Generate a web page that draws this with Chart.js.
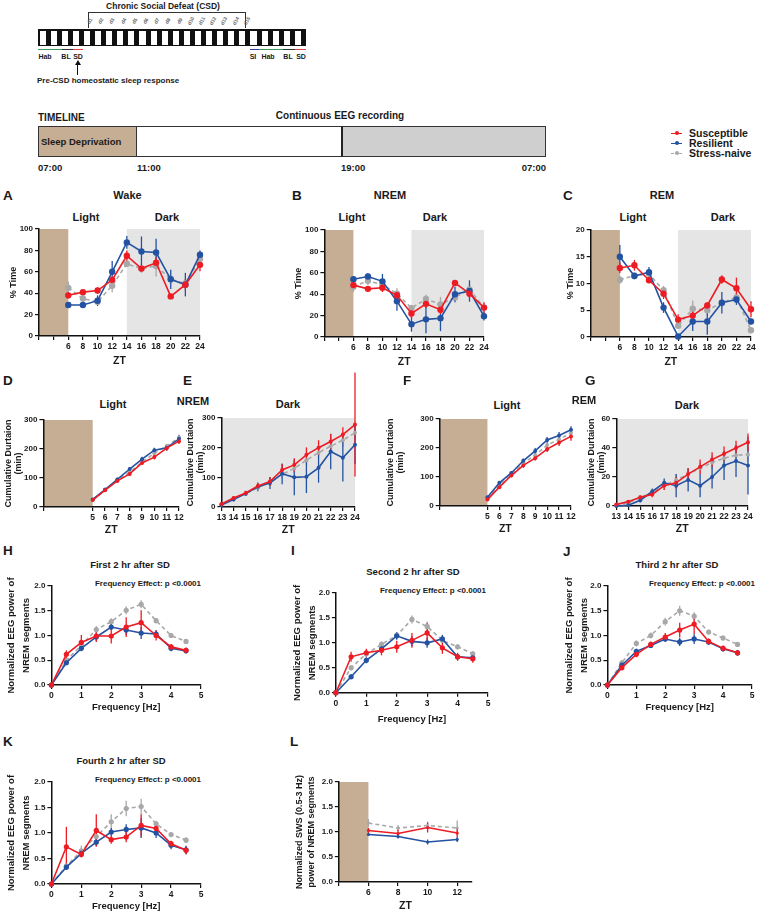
<!DOCTYPE html>
<html>
<head>
<meta charset="utf-8">
<script src="https://cdn.jsdelivr.net/npm/chart.js@4.4.1/dist/chart.umd.min.js"></script>
<style>
  body { margin:0; width:758px; height:911px; position:relative; overflow:hidden; background:#fff;
         font-family:'Liberation Sans', Arial, sans-serif; font-weight:bold; color:#1a1a1a; }
  canvas { position:absolute; }
</style>
</head>
<body>
<script>
// ---- x positions ----
const ztDay = [6, 8, 10, 12, 14, 16, 18, 20, 22, 24];
const ztCumLight = [5, 6, 7, 8, 9, 10, 11, 12];
const ztCumDark = [13, 14, 15, 16, 17, 18, 19, 20, 21, 22, 23, 24];
const freqHz = [0, 0.5, 1, 1.5, 2, 2.5, 3, 3.5, 4, 4.5];
const ztSws = [6, 8, 10, 12];

// ---- tick labels ----
const ztDayTicks = [2, 4, 6, 8, 10, 12, 14, 16, 18, 20, 22, 24];
const ztDayLabels = [6, 8, 10, 12, 14, 16, 18, 20, 22, 24];
const ztCumLightTicks = [1, 5, 6, 7, 8, 9, 10, 11, 12];
const ztCumLightLabels = [5, 6, 7, 8, 9, 10, 11, 12];
const ztCumDarkTicks = [13, 14, 15, 16, 17, 18, 19, 20, 21, 22, 23, 24];
const freqTicks = [0, 1, 2, 3, 4, 5];
const ztSwsTicks = [4, 6, 8, 10, 12];
const ztSwsLabels = [6, 8, 10, 12];
const pctTicks = [0, 20, 40, 60, 80, 100];
const remPctTicks = [0, 5, 10, 15, 20];
const cumTicks = [0, 100, 200, 300];
const cumRemDarkTicks = [0, 20, 40, 60];
const powerTicks = [0, 0.5, 1, 1.5, 2];

// ---- A: Wake % time ----
const wakeSus = [38, 41, 42.5, 52.5, 75, 63, 68.5, 37, 48, 66.5];
const wakeSusErr = [3, 2, 3, 3, 5, 3, 5, 2, 5, 6];
const wakeRes = [29, 29, 33, 60, 87.5, 79, 78, 53, 48, 76];
const wakeResErr = [2, 2, 5, 10, 6, 14, 13, 9, 11, 4];
const wakeNaive = [45, 35, 32, 47, 67.5, 63, 65.5, 53, 49, 72];
const wakeNaiveErr = [6, 3, 3, 6, 3, 4, 10, 4, 4, 3];

// ---- B: NREM % time ----
const nremSus = [48.5, 45, 46, 39, 22, 31, 25.5, 50.5, 40.5, 27.5];
const nremSusErr = [3, 2, 4, 3, 5, 4, 4, 2, 4, 5];
const nremRes = [54, 56.5, 52, 33.5, 12, 16.5, 17.5, 40, 43, 19.5];
const nremResErr = [3, 3, 7, 9, 7, 13, 12, 7, 10, 4];
const nremNaive = [47, 52.5, 49, 40.5, 27, 35.5, 30.5, 37, 44.5, 27.5];
const nremNaiveErr = [5, 4, 3, 5, 3, 4, 7, 5, 5, 4];

// ---- C: REM % time ----
const remSus = [12.9, 13.4, 10.6, 8.1, 3.25, 4, 5.9, 10.75, 9.1, 5.2];
const remSusErr = [1, 1, 0.5, 1, 1, 1, 0.6, 0.8, 2, 1.5];
const remRes = [15, 11.4, 12.1, 5.5, 0.1, 2.9, 2.9, 6.4, 7, 2.9];
const remResErr = [2.2, 0.6, 1, 1, 0.3, 1.8, 2.5, 2, 1, 0.5];
const remNaive = [10.7, 11.5, 11.8, 8.75, 2.1, 5.3, 5, 6.4, 7.4, 1.25];
const remNaiveErr = [0.8, 0.6, 0.8, 0.8, 0.5, 1.5, 1, 0.8, 0.8, 0.5];

// ---- D: cumulative NREM, light ----
const cumNremLightSus = [24, 58, 90, 114, 152, 172, 203, 227];
const cumNremLightSusErr = [4, 5, 5, 6, 6, 8, 8, 10];
const cumNremLightRes = [26, 60, 95, 131, 165, 196, 204, 235];
const cumNremLightResErr = [4, 5, 6, 6, 8, 8, 10, 12];
const cumNremLightNaive = [25, 58, 92, 120, 155, 185, 210, 240];
const cumNremLightNaiveErr = [4, 5, 5, 6, 6, 8, 8, 10];

// ---- E: cumulative NREM, dark ----
const cumNremDarkSus = [10, 30, 47, 71, 86, 125, 142, 176, 200, 221, 244, 278];
const cumNremDarkSusErr = [5, 6, 8, 10, 15, 20, 22, 25, 25, 25, 25, 175];
const cumNremDarkRes = [7, 25, 45, 68, 81, 112, 100, 102, 132, 187, 166, 210];
const cumNremDarkResErr = [4, 6, 8, 15, 20, 35, 60, 55, 50, 60, 80, 65];
const cumNremDarkNaive = [8, 28, 45, 65, 85, 110, 130, 158, 183, 205, 225, 250];
const cumNremDarkNaiveErr = [4, 5, 7, 8, 10, 12, 15, 15, 18, 20, 22, 25];

// ---- F: cumulative REM, light ----
const cumRemLightSus = [22, 65, 105, 140, 165, 196, 219, 240];
const cumRemLightSusErr = [3, 5, 6, 8, 8, 10, 12, 15];
const cumRemLightRes = [30, 80, 114, 156, 190, 228, 243, 263];
const cumRemLightResErr = [3, 5, 6, 8, 10, 10, 12, 12];
const cumRemLightNaive = [25, 72, 108, 148, 175, 210, 230, 252];
const cumRemLightNaiveErr = [3, 5, 6, 8, 8, 10, 10, 12];

// ---- G: cumulative REM, dark ----
const cumRemDarkSus = [1, 3, 6, 8, 14, 16, 22, 27, 32, 36, 40, 44];
const cumRemDarkSusErr = [0.5, 1, 1.5, 2, 3, 4, 4, 5, 5, 5, 5, 6];
const cumRemDarkRes = [0, 0.5, 4, 10, 16, 14, 18, 14, 20, 28, 31, 28];
const cumRemDarkResErr = [0.3, 0.5, 1.5, 2, 3, 8, 8, 8, 8, 10, 11, 20];
const cumRemDarkNaive = [0.5, 2, 6, 9, 14, 18, 22, 26, 30, 33, 35, 35.5];
const cumRemDarkNaiveErr = [0.3, 0.8, 1, 1.5, 3, 4, 4, 4, 5, 5, 5, 5];

// ---- H-K: normalized EEG power ----
const pow1Sus = [0, 0.62, 0.86, 0.99, 0.99, 1.17, 1.26, 1.0, 0.77, 0.7];
const pow1SusErr = [0, 0.08, 0.15, 0.12, 0.15, 0.2, 0.25, 0.1, 0.06, 0.06];
const pow1Res = [0, 0.45, 0.74, 0.97, 1.17, 1.11, 1.05, 1.03, 0.74, 0.69];
const pow1ResErr = [0, 0.05, 0.06, 0.08, 0.06, 0.1, 0.12, 0.08, 0.06, 0.05];
const pow1Naive = [0, 0.5, 0.8, 1.12, 1.28, 1.51, 1.63, 1.3, 1.0, 0.88];
const pow1NaiveErr = [0, 0.05, 0.06, 0.07, 0.07, 0.08, 0.08, 0.05, 0.05, 0.05];

const pow2Sus = [0, 0.72, 0.8, 0.85, 0.92, 1.05, 1.2, 0.9, 0.72, 0.68];
const pow2SusErr = [0, 0.1, 0.08, 0.1, 0.12, 0.15, 0.2, 0.12, 0.08, 0.08];
const pow2Res = [0, 0.32, 0.65, 0.88, 1.14, 1.03, 1.0, 1.08, 0.72, 0.7];
const pow2ResErr = [0, 0.05, 0.06, 0.07, 0.08, 0.1, 0.1, 0.08, 0.06, 0.06];
const pow2Naive = [0, 0.5, 0.78, 0.97, 1.15, 1.47, 1.33, 1.05, 0.92, 0.78];
const pow2NaiveErr = [0, 0.05, 0.05, 0.06, 0.06, 0.08, 0.1, 0.06, 0.05, 0.05];

const pow3Sus = [0, 0.35, 0.62, 0.82, 0.97, 1.11, 1.23, 0.88, 0.74, 0.65];
const pow3SusErr = [0, 0.05, 0.06, 0.06, 0.08, 0.15, 0.2, 0.06, 0.06, 0.06];
const pow3Res = [0, 0.4, 0.68, 0.8, 0.93, 0.87, 0.93, 0.87, 0.73, 0.65];
const pow3ResErr = [0, 0.05, 0.05, 0.05, 0.06, 0.08, 0.1, 0.06, 0.05, 0.05];
const pow3Naive = [0, 0.45, 0.84, 1.0, 1.28, 1.5, 1.39, 1.07, 0.95, 0.82];
const pow3NaiveErr = [0, 0.05, 0.06, 0.06, 0.08, 0.1, 0.08, 0.05, 0.05, 0.05];

const pow4Sus = [0, 0.73, 0.58, 1.05, 0.87, 0.92, 1.15, 1.09, 0.79, 0.66];
const pow4SusErr = [0, 0.39, 0.06, 0.32, 0.08, 0.1, 0.22, 0.1, 0.06, 0.08];
const pow4Res = [0, 0.33, 0.6, 0.82, 1.02, 1.07, 1.1, 1.0, 0.76, 0.67];
const pow4ResErr = [0, 0.05, 0.05, 0.08, 0.08, 0.1, 0.2, 0.1, 0.08, 0.08];
const pow4Naive = [0, 0.35, 0.65, 0.93, 1.22, 1.48, 1.52, 1.18, 0.97, 0.86];
const pow4NaiveErr = [0, 0.05, 0.1, 0.1, 0.15, 0.15, 0.15, 0.06, 0.05, 0.05];

// ---- L: normalized SWS power ----
const swsSus = [1.03, 0.97, 1.09, 0.98];
const swsSusErr = [0.05, 0.08, 0.1, 0.08];
const swsRes = [0.95, 0.91, 0.8, 0.85];
const swsResErr = [0.03, 0.04, 0.05, 0.05];
const swsNaive = [1.18, 1.08, 1.13, 1.08];
const swsNaiveErr = [0.08, 0.06, 0.08, 0.15];

const FONT = "'Liberation Sans', Arial, Helvetica, sans-serif";
const INK = '#1a1a1a';
const RED = '#ed1c24', BLUE = '#2452a2', GREY = '#a8a8a8';
const TAN = '#c5ae94', DARKSHADE = '#e5e5e5';

// ---------- helpers for the html parts ----------
function text(str, x, y, size, anchor) {
  const d = document.createElement('div');
  d.textContent = str;
  const tx = anchor === 'left' ? '0' : anchor === 'right' ? '-100%' : '-50%';
  d.style.cssText = `position:absolute;white-space:nowrap;left:${x}px;top:${y}px;` +
    `font:bold ${size}px ${FONT};color:${INK};transform:translate(${tx},-50%);line-height:1`;
  document.body.appendChild(d);
  return d;
}
function rect(x, y, w, h, css) {
  const d = document.createElement('div');
  d.style.cssText = `position:absolute;left:${x}px;top:${y}px;width:${w}px;height:${h}px;${css || ''}`;
  document.body.appendChild(d);
  return d;
}

// ---------- top schematic ----------
text('Chronic Social Defeat (CSD)', 163, 6, 8.5);
rect(88, 12, 157, 0, 'border-top:1px solid #333');
rect(88, 12, 0, 16, 'border-left:1px solid #333');
rect(245, 12, 0, 16, 'border-left:1px solid #333');
rect(38, 29, 268, 17, 'background:#111');
for (let k = 0; k < 24; k++) rect(39.5 + k * 11.1, 30.5, 6.2, 14, 'background:#fff');
for (let i = 1; i <= 15; i++) {
  const d = text('d' + i, 90 + (i - 1) * 11.2, 21, 5);
  d.style.color = '#666';
  d.style.transform = 'translate(-50%,-50%) rotate(-60deg)';
}
rect(38, 49, 24, 0, 'border-top:1.5px solid #3a9a5a');
rect(62, 49, 11, 0, 'border-top:1.5px solid #333');
rect(73, 49, 10, 0, 'border-top:1.5px solid #e04040');
text('Hab', 45, 55.5, 7); text('BL', 66, 55.5, 7); text('SD', 78, 55.5, 7);
rect(250, 49, 9, 0, 'border-top:1.5px solid #3a3aa0');
rect(259, 49, 24, 0, 'border-top:1.5px solid #3a9a5a');
rect(283, 49, 12, 0, 'border-top:1.5px solid #333');
rect(295, 49, 11, 0, 'border-top:1.5px solid #e04040');
text('SI', 253, 55.5, 7); text('Hab', 268, 55.5, 7); text('BL', 288, 55.5, 7); text('SD', 301, 55.5, 7);
rect(77.2, 64, 0, 11, 'border-left:1.5px solid #111');
rect(75, 60, 0, 0, 'border-left:3px solid transparent;border-right:3px solid transparent;border-bottom:5px solid #111');
text('Pre-CSD homeostatic sleep response', 37, 81, 8, 'left');

// ---------- timeline ----------
text('TIMELINE', 38, 118, 10, 'left');
text('Continuous EEG recording', 340, 116, 10);
rect(38, 126, 508, 31, 'box-sizing:border-box;border:1px solid #333;background:#fff');
rect(38, 126, 99, 31, 'box-sizing:border-box;border:1px solid #333;background:' + TAN);
rect(341, 126, 205, 31, 'box-sizing:border-box;border:1px solid #333;border-left:2px solid #222;background:#cfcfcf');
text('Sleep Deprivation', 41, 141.5, 9.5, 'left');
text('07:00', 38, 168, 9.5, 'left');
text('11:00', 137, 168, 9.5, 'left');
text('19:00', 341, 168, 9.5, 'left');
text('07:00', 546, 168, 9.5, 'right');

// ---------- legend ----------
const legendItems = [['Susceptible', RED, false], ['Resilient', BLUE, false], ['Stress-naive', GREY, true]];
legendItems.forEach(([name, col, dashed], i) => {
  const y = 133 + i * 10;
  rect(671, y, 11, 0, `border-top:1.5px ${dashed ? 'dashed' : 'solid'} ${col}`);
  rect(674.5, y - 2, 4, 4, `border-radius:50%;background:${col}`);
  text(name, 689, y, 10.5, 'left');
});

// ---------- chart plugins ----------
const shadePlugin = {
  id: 'shade',
  beforeDraw(chart, args, opts) {
    const {ctx, chartArea: a, scales: {x}} = chart;
    (opts.bands || []).forEach(b => {
      const x0 = x.getPixelForValue(b[0]), x1 = x.getPixelForValue(b[1]);
      ctx.save();
      ctx.fillStyle = b[2];
      ctx.fillRect(x0, a.top, x1 - x0, a.bottom - a.top);
      ctx.restore();
    });
  }
};
const errorBarPlugin = {
  id: 'errbars',
  beforeDatasetsDraw(chart) {
    const {ctx, scales: {x, y}} = chart;
    const sets = chart.data.datasets;
    for (let i = sets.length - 1; i >= 0; i--) {
      const ds = sets[i];
      if (!ds.errors) continue;
      ctx.save();
      ctx.strokeStyle = ds.borderColor;
      ctx.lineWidth = 1.3;
      ds.data.forEach((p, j) => {
        const e = ds.errors[j];
        if (!e) return;
        const px = x.getPixelForValue(p.x);
        ctx.beginPath();
        ctx.moveTo(px, y.getPixelForValue(p.y - e));
        ctx.lineTo(px, y.getPixelForValue(p.y + e));
        ctx.stroke();
      });
      ctx.restore();
    }
  }
};

function makeChart(p) {
  const [x0, y0, x1, y1] = p.area;
  const padT = p.padT || 12, padR = p.padR || 12;
  const w = Math.round(x1 - x0 + p.yW + padR), h = Math.round(y1 - y0 + padT + p.xH);
  const cv = document.createElement('canvas');
  cv.width = w; cv.height = h;
  cv.style.left = (x0 - p.yW) + 'px';
  cv.style.top = (y0 - padT) + 'px';
  cv.style.width = w + 'px';
  cv.style.height = h + 'px';
  document.body.appendChild(cv);

  const datasets = p.series.map(s => ({
    data: p.xs.map((xv, i) => ({x: xv, y: s.y[i]})),
    errors: s.err,
    borderColor: s.color,
    backgroundColor: s.color,
    borderWidth: 1.6,
    borderDash: s.dash || [],
    pointRadius: p.pr,
    pointBorderWidth: 0,
    pointHoverRadius: p.pr,
    tension: 0,
    clip: false
  }));
  const tickFont = {family: FONT, size: 8.5, weight: 'bold'};
  const grid = {drawOnChartArea: false, drawTicks: true, tickLength: 4, color: '#111', lineWidth: 1.2};
  const border = {display: true, color: '#111', width: 1.5};
  const xLab = p.xLabels || p.xTicks;
  const yt = p.yTitleFont || {size: 9, lh: 1.2};

  new Chart(cv, {
    type: 'line',
    data: {datasets},
    options: {
      responsive: false,
      animation: false,
      events: [],
      layout: {padding: {top: padT, right: padR, left: 0, bottom: 0}},
      plugins: {legend: {display: false}, tooltip: {enabled: false}, shade: {bands: p.shade || []}},
      scales: {
        x: {
          type: 'linear', min: p.xMin, max: p.xMax,
          afterBuildTicks: s => { s.ticks = p.xTicks.map(v => ({value: v})); },
          afterFit: s => { s.height = p.xH; },
          ticks: {autoSkip: false, maxRotation: 0, padding: 2, font: tickFont, color: INK,
                  callback: v => xLab.includes(v) ? String(v) : ''},
          grid, border,
          title: {display: true, text: p.xTitle, color: INK, padding: 0,
                  font: {family: FONT, size: p.xTitleSize || 10.5, weight: 'bold'}}
        },
        y: {
          min: p.yMin, max: p.yMax,
          afterBuildTicks: s => { s.ticks = p.yTicks.map(v => ({value: v})); },
          afterFit: s => { s.width = p.yW; },
          ticks: {autoSkip: false, padding: 2, font: {family: FONT, size: 8, weight: 'bold'}, color: INK,
                  callback: p.yFmt || (v => String(v))},
          grid, border,
          title: {display: true, text: p.yTitle, color: INK, padding: 0,
                  font: {family: FONT, size: yt.size, weight: 'bold', lineHeight: yt.lh}}
        }
      }
    },
    plugins: [shadePlugin, errorBarPlugin]
  });
}

function trio(sus, susErr, res, resErr, naive, naiveErr) {
  return [
    {y: sus, err: susErr, color: RED},
    {y: res, err: resErr, color: BLUE},
    {y: naive, err: naiveErr, color: GREY, dash: [4, 3]}
  ];
}
const fmt1 = v => v.toFixed(1);

// ---------- row 1: A, B, C ----------
text('A', 3, 196, 13.5, 'left'); text('Wake', 127.5, 195, 11);
text('Light', 86, 217, 11); text('Dark', 167, 217, 11);
makeChart({area: [39, 229, 199.5, 336], yW: 31, xH: 31, padR: 10,
  xMin: 2, xMax: 24, xTicks: ztDayTicks, xLabels: ztDayLabels, xTitle: 'ZT',
  yMin: 0, yMax: 100, yTicks: pctTicks, yTitle: '% Time',
  shade: [[2, 6, TAN], [14, 24, DARKSHADE]], xs: ztDay, pr: 3.2,
  series: trio(wakeSus, wakeSusErr, wakeRes, wakeResErr, wakeNaive, wakeNaiveErr)});

text('B', 292, 196, 13.5, 'left'); text('NREM', 390, 195, 11);
text('Light', 352, 217, 11); text('Dark', 435, 217, 11);
makeChart({area: [324, 230, 484, 337], yW: 31.4, xH: 31, padR: 10,
  xMin: 2, xMax: 24, xTicks: ztDayTicks, xLabels: ztDayLabels, xTitle: 'ZT',
  yMin: 0, yMax: 100, yTicks: pctTicks, yTitle: '% Time',
  shade: [[2, 6, TAN], [14, 24, DARKSHADE]], xs: ztDay, pr: 3.2,
  series: trio(nremSus, nremSusErr, nremRes, nremResErr, nremNaive, nremNaiveErr)});

text('C', 563, 196, 13.5, 'left'); text('REM', 662, 195, 11);
text('Light', 633, 217, 11); text('Dark', 723, 217, 11);
makeChart({area: [591, 230, 751, 337], yW: 25.7, xH: 31, padR: 7,
  xMin: 2, xMax: 24, xTicks: ztDayTicks, xLabels: ztDayLabels, xTitle: 'ZT',
  yMin: 0, yMax: 20, yTicks: remPctTicks, yTitle: '% Time',
  shade: [[2, 6, TAN], [14, 24, DARKSHADE]], xs: ztDay, pr: 3.2,
  series: trio(remSus, remSusErr, remRes, remResErr, remNaive, remNaiveErr)});

// ---------- row 2: D, E, F, G ----------
const cumTitle = ['Cumulative Durtaion', '(min)'];
const cumFont = {size: 9, lh: 1.1};
text('D', 3, 381, 13.5, 'left'); text('Light', 113, 404, 11);
makeChart({area: [43, 420, 179, 507], yW: 39.4, xH: 29, padR: 10,
  xMin: 1, xMax: 12, xTicks: ztCumLightTicks, xLabels: ztCumLightLabels, xTitle: 'ZT',
  yMin: 0, yMax: 300, yTicks: cumTicks, yTitle: cumTitle, yTitleFont: cumFont,
  shade: [[1, 5, TAN]], xs: ztCumLight, pr: 2,
  series: trio(cumNremLightSus, cumNremLightSusErr, cumNremLightRes, cumNremLightResErr, cumNremLightNaive, cumNremLightNaiveErr)});

text('E', 183, 381, 13.5, 'left'); text('NREM', 193, 401, 11); text('Dark', 288, 404, 11);
makeChart({area: [221, 418, 355, 507], yW: 35.4, xH: 29, padR: 10, padT: 55,
  xMin: 13, xMax: 24, xTicks: ztCumDarkTicks, xTitle: 'ZT',
  yMin: 0, yMax: 300, yTicks: cumTicks, yTitle: cumTitle, yTitleFont: cumFont,
  shade: [[13, 24, DARKSHADE]], xs: ztCumDark, pr: 2,
  series: trio(cumNremDarkSus, cumNremDarkSusErr, cumNremDarkRes, cumNremDarkResErr, cumNremDarkNaive, cumNremDarkNaiveErr)});

text('F', 403, 381, 13.5, 'left'); text('Light', 507, 405, 11);
makeChart({area: [440, 419.3, 571, 506], yW: 53.7, xH: 29, padR: 10,
  xMin: 1, xMax: 12, xTicks: ztCumLightTicks, xLabels: ztCumLightLabels, xTitle: 'ZT',
  yMin: 0, yMax: 300, yTicks: cumTicks, yTitle: cumTitle, yTitleFont: cumFont,
  shade: [[1, 5, TAN]], xs: ztCumLight, pr: 2,
  series: trio(cumRemLightSus, cumRemLightSusErr, cumRemLightRes, cumRemLightResErr, cumRemLightNaive, cumRemLightNaiveErr)});

text('G', 585, 381, 13.5, 'left'); text('REM', 584, 400, 11); text('Dark', 687, 405, 11);
makeChart({area: [616, 419.3, 748, 506], yW: 29.3, xH: 29, padR: 10,
  xMin: 13, xMax: 24, xTicks: ztCumDarkTicks, xTitle: 'ZT',
  yMin: 0, yMax: 60, yTicks: cumRemDarkTicks, yTitle: cumTitle, yTitleFont: cumFont,
  shade: [[13, 24, DARKSHADE]], xs: ztCumDark, pr: 2,
  series: trio(cumRemDarkSus, cumRemDarkSusErr, cumRemDarkRes, cumRemDarkResErr, cumRemDarkNaive, cumRemDarkNaiveErr)});

// ---------- rows 3-4: H, I, J, K, L ----------
const powTitle = ['Normalized EEG power of', 'NREM segments'];
const powFont = {size: 9.5, lh: 1.55};
const fe = 'Frequency Effect: p <0.0001';

text('H', 3, 551, 13.5, 'left'); text('First 2 hr after SD', 130, 565, 9.5); text(fe, 148, 583.5, 8);
makeChart({area: [51, 586, 201, 684.7], yW: 47.4, xH: 28, padT: 30,
  xMin: 0, xMax: 5, xTicks: freqTicks, xTitle: 'Frequency [Hz]', xTitleSize: 9.5,
  yMin: 0, yMax: 2, yTicks: powerTicks, yFmt: fmt1, yTitle: powTitle, yTitleFont: powFont,
  xs: freqHz, pr: 2.6,
  series: trio(pow1Sus, pow1SusErr, pow1Res, pow1ResErr, pow1Naive, pow1NaiveErr)});

text('I', 291, 551, 13.5, 'left'); text('Second 2 hr after SD', 413, 572, 9.5); text(fe, 433, 591, 8);
makeChart({area: [336, 593.3, 487.7, 693.3], yW: 45.9, xH: 32.3, padT: 30,
  xMin: 0, xMax: 5, xTicks: freqTicks, xTitle: 'Frequency [Hz]', xTitleSize: 9.5,
  yMin: 0, yMax: 2, yTicks: powerTicks, yFmt: fmt1, yTitle: powTitle, yTitleFont: powFont,
  xs: freqHz, pr: 2.6,
  series: trio(pow2Sus, pow2SusErr, pow2Res, pow2ResErr, pow2Naive, pow2NaiveErr)});

text('J', 563, 552, 13.5, 'left'); text('Third 2 hr after SD', 677, 565, 9.5); text(fe, 702, 583.5, 8);
makeChart({area: [607, 586, 752, 684.7], yW: 45.4, xH: 28, padT: 30, padR: 6,
  xMin: 0, xMax: 5, xTicks: freqTicks, xTitle: 'Frequency [Hz]', xTitleSize: 9.5,
  yMin: 0, yMax: 2, yTicks: powerTicks, yFmt: fmt1, yTitle: powTitle, yTitleFont: powFont,
  xs: freqHz, pr: 2.6,
  series: trio(pow3Sus, pow3SusErr, pow3Res, pow3ResErr, pow3Naive, pow3NaiveErr)});

text('K', 3, 742, 13.5, 'left'); text('Fourth 2 hr after SD', 121, 761, 9.5); text(fe, 148, 779.5, 8);
makeChart({area: [51, 781.7, 201, 883.7], yW: 47.4, xH: 28, padT: 30,
  xMin: 0, xMax: 5, xTicks: freqTicks, xTitle: 'Frequency [Hz]', xTitleSize: 9.5,
  yMin: 0, yMax: 2, yTicks: powerTicks, yFmt: fmt1, yTitle: powTitle, yTitleFont: powFont,
  xs: freqHz, pr: 2.6,
  series: trio(pow4Sus, pow4SusErr, pow4Res, pow4ResErr, pow4Naive, pow4NaiveErr)});

text('L', 290, 742, 13.5, 'left');
makeChart({area: [339, 781.7, 472.5, 881.7], yW: 44.85, xH: 30, padT: 30,
  xMin: 4, xMax: 13, xTicks: ztSwsTicks, xLabels: ztSwsLabels, xTitle: 'ZT',
  yMin: 0, yMax: 2, yTicks: powerTicks, yFmt: fmt1,
  yTitle: ['Normalized SWS (0.5-3 Hz)', 'power of NREM segments'], yTitleFont: {size: 9, lh: 1.3},
  shade: [[4, 6, TAN]], xs: ztSws, pr: 1.6,
  series: trio(swsSus, swsSusErr, swsRes, swsResErr, swsNaive, swsNaiveErr)});
</script>
</body>
</html>
